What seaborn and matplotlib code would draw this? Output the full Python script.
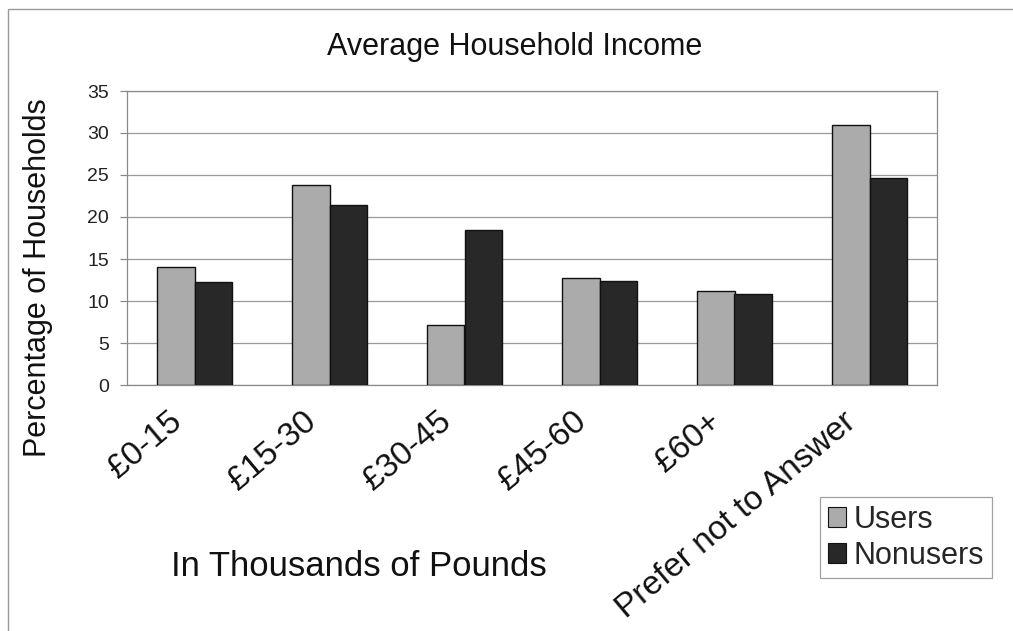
import matplotlib
matplotlib.use("Agg")
import matplotlib.pyplot as plt
import matplotlib.transforms as mtransforms
import seaborn as sns
import pandas as pd
from matplotlib.patches import Rectangle, Patch

categories = ["£0-15", "£15-30", "£30-45", "£45-60", "£60+", "Prefer not to Answer"]
users = [14.0, 23.8, 7.1, 12.7, 11.2, 31.0]
nonusers = [12.3, 21.4, 18.5, 12.4, 10.8, 24.6]
series = ["Users", "Nonusers"]
yticks = [0, 5, 10, 15, 20, 25, 30, 35]

df = pd.DataFrame({
    "category": categories * 2,
    "value": users + nonusers,
    "group": [series[0]] * len(categories) + [series[1]] * len(categories),
})

sns.set_theme(style="white")
plt.rcParams["font.family"] = ["Liberation Sans", "DejaVu Sans"]

colors = {"Users": "#ababab", "Nonusers": "#282828"}

fig = plt.figure(figsize=(10.13, 6.31), dpi=100)
ax = fig.add_axes([127 / 1013, 1 - 385 / 631, 810 / 1013, 294 / 631])

sns.barplot(data=df, x="category", y="value", hue="group", order=categories,
            hue_order=series, palette=colors, width=0.56, gap=0,
            edgecolor="#111111", linewidth=1.0, ax=ax, legend=False, zorder=3)

ax.set_ylim(0, 35)
ax.set_xlim(-0.5, len(categories) - 0.5)
ax.set_yticks(yticks)
ax.set_yticklabels([str(t) for t in yticks], fontsize=14, color="#222222")
ax.yaxis.grid(True, color="#9a9a9a", linewidth=0.9, zorder=0)
ax.xaxis.grid(False)
for s in ax.spines.values():
    s.set_color("#8a8a8a")
    s.set_linewidth(0.9)

# category ticks at the group boundaries, slanted labels at the centres
ax.set_xticks(range(len(categories)))
ax.set_xticklabels(categories, rotation=40, ha="right", rotation_mode="anchor",
                   fontsize=24, color="#111111")
ax.tick_params(axis="x", length=0, pad=0)
shift = mtransforms.ScaledTranslation(-0.27, -0.21, fig.dpi_scale_trans)
for lab in ax.get_xticklabels():
    lab.set_transform(lab.get_transform() + shift)
ax.set_xticks([i - 0.5 for i in range(len(categories) + 1)], minor=True)
ax.tick_params(axis="x", which="minor", length=6, color="#8a8a8a", width=0.9)
ax.tick_params(axis="y", length=5, color="#8a8a8a", width=0.9, pad=8, left=True)

ax.set_xlabel("")
ax.set_ylabel("")

fig.text(38 / 1013, 1 - 278 / 631, "Percentage of Households", fontsize=22,
         rotation=90, ha="center", va="center", color="#111111")
fig.text(515 / 1013, 1 - 47 / 631, "Average Household Income", fontsize=22,
         ha="center", va="center", color="#111111")
fig.text(359 / 1013, 1 - 566 / 631, "In Thousands of Pounds", fontsize=25,
         ha="center", va="center", color="#111111")

handles = [Patch(facecolor=colors[s], edgecolor="#111111", linewidth=0.8, label=s)
           for s in series]
leg = fig.legend(handles=handles, loc="upper left",
                 bbox_to_anchor=(820 / 1013, 1 - 497 / 631), fontsize=22,
                 frameon=True, fancybox=False, edgecolor="#8a8a8a",
                 handlelength=0.6, handleheight=0.6, handletextpad=0.25,
                 borderpad=0.25, labelspacing=0.2, borderaxespad=0)
leg.get_frame().set_linewidth(0.9)

# outer chart border
fig.patches.append(Rectangle((8 / 1013, -0.05), 1.1, 1 - 9 / 631 + 0.05,
                             transform=fig.transFigure, fill=False,
                             edgecolor="#9a9a9a", linewidth=1.0))

fig.savefig("out.png", dpi=100, facecolor="white")
